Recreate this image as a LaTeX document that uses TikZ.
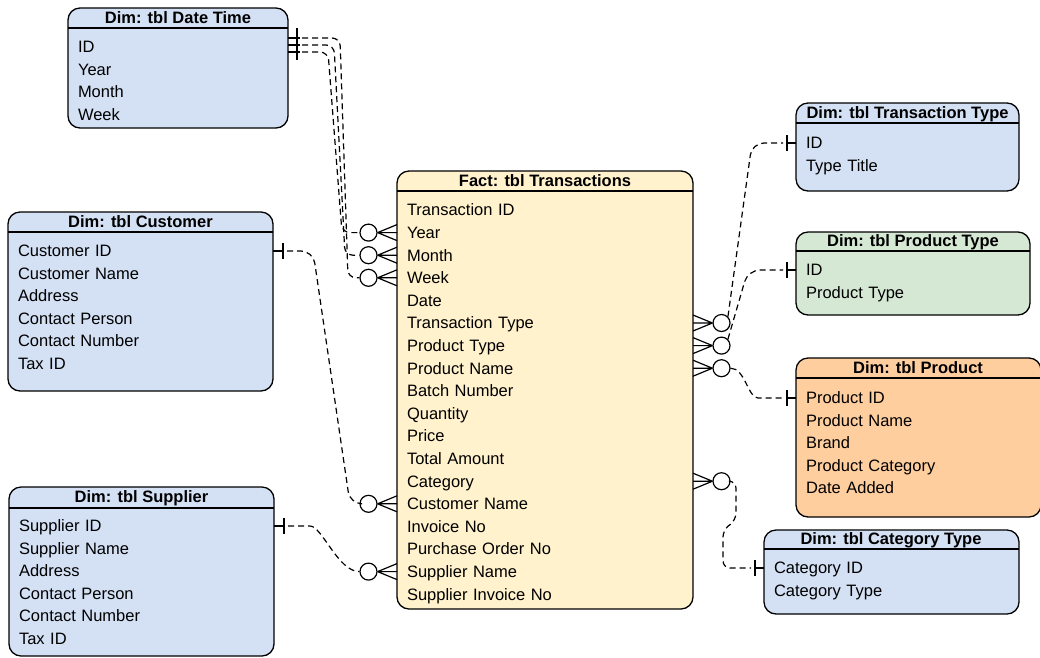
\documentclass[tikz,border=0pt]{standalone}
\usepackage{fontspec}
\setmainfont{Liberation Sans}
\usetikzlibrary{calc}
\definecolor{dimblue}{HTML}{D4E1F5}
\definecolor{dimgreen}{HTML}{D5E8D4}
\definecolor{factyellow}{HTML}{FFF2CC}
\definecolor{dimorange}{HTML}{FFCE9F}
\newcommand\erManyLeft[2]{%
  \node[erc] (#2) at ($(#1.west)+(-28.5,0)$) {};
  \draw[erl] (#2.east) -- ($(#1.west)+(0,-8)$) (#2.east) -- ($(#1.west)+(0,8)$) (#2.east) -- (#1.west);}
\newcommand\erManyRight[2]{%
  \node[erc] (#2) at ($(#1.east)+(28.5,0)$) {};
  \draw[erl] (#2.west) -- ($(#1.east)+(0,-8)$) (#2.west) -- ($(#1.east)+(0,8)$) (#2.west) -- (#1.east);}
\newcommand\erOneRight[1]{\draw[erl] (#1.east) -- ++(10,0) ++(0,-8) -- ++(0,16);}
\newcommand\erOneLeft[1]{\draw[erl] (#1.west) -- ++(-9,0) ++(0,-8) -- ++(0,16);}
\begin{document}
\begin{tikzpicture}[x=1pt,y=-1pt,
  every node/.style={font=\fontsize{16.5pt}{20pt}\selectfont},
  tbl/.style={draw, rounded corners=12pt, line width=1.3pt, inner sep=0pt},
  hdr/.style={font=\fontsize{16.5pt}{20pt}\selectfont\bfseries, inner sep=0pt, text height=11.8pt, text depth=0pt},
  row/.style={anchor=west, inner xsep=10pt, inner ysep=0pt, outer sep=0pt, text height=11.8pt, text depth=0pt, align=left},
  sepl/.style={line width=1.3pt},
  erl/.style={line width=1.2pt},
  conn/.style={line width=1.2pt, dash pattern=on 6pt off 4pt, rounded corners=10pt},
  erc/.style={circle, draw, fill=white, minimum size=17pt, inner sep=0pt, line width=1.2pt}]
\useasboundingbox (0,0) rectangle (1040,657);

% ---- Dim: tbl Date Time
\node[tbl, fill=dimblue, minimum width=220pt, minimum height=120pt] (dt) at (178,68) {};
\node[hdr] (dth) at (178,18) {Dim: tbl Date Time};
\draw[sepl] (68,28) -- (288,28);
\foreach \t [count=\i] in {ID,Year,Month,Week}
  \node[row, text width=200pt] (dt\i) at (68,{47+22.5*(\i-1)}) {\t};

% ---- Dim: tbl Customer
\node[tbl, fill=dimblue, minimum width=265pt, minimum height=179pt] (cu) at (140.5,301.5) {};
\node[hdr] (cuh) at (140.5,222) {Dim: tbl Customer};
\draw[sepl] (8,232) -- (273,232);
\foreach \t [count=\i] in {Customer ID,Customer Name,Address,Contact Person,Contact Number,Tax ID}
  \node[row, text width=245pt] (cu\i) at (8,{251+22.5*(\i-1)}) {\t};

% ---- Dim: tbl Supplier
\node[tbl, fill=dimblue, minimum width=265pt, minimum height=169pt] (su) at (141.5,571.5) {};
\node[hdr] (suh) at (141.5,497) {Dim: tbl Supplier};
\draw[sepl] (9,508) -- (274,508);
\foreach \t [count=\i] in {Supplier ID,Supplier Name,Address,Contact Person,Contact Number,Tax ID}
  \node[row, text width=245pt] (su\i) at (9,{526+22.5*(\i-1)}) {\t};

% ---- Fact: tbl Transactions
\node[tbl, fill=factyellow, minimum width=296pt, minimum height=438pt] (fa) at (545,390) {};
\node[hdr] (fah) at (545,181) {Fact: tbl Transactions};
\draw[sepl] (397,191) -- (693,191);
\foreach \t [count=\i] in {Transaction ID,Year,Month,Week,Date,Transaction Type,Product Type,Product Name,Batch Number,Quantity,Price,Total Amount,Category,Customer Name,Invoice No,Purchase Order No,Supplier Name,Supplier Invoice No}
  \node[row, text width=276pt] (fa\i) at (397,{210+22.6*(\i-1)}) {\t};

% ---- Dim: tbl Transaction Type
\node[tbl, fill=dimblue, minimum width=223pt, minimum height=88pt] (tt) at (907.5,147) {};
\node[hdr] (tth) at (907.5,113) {Dim: tbl Transaction Type};
\draw[sepl] (796,123) -- (1019,123);
\foreach \t [count=\i] in {ID,Type Title}
  \node[row, text width=203pt] (tt\i) at (796,{143+22.5*(\i-1)}) {\t};

% ---- Dim: tbl Product Type
\node[tbl, fill=dimgreen, minimum width=234pt, minimum height=83pt] (pt) at (913,273.5) {};
\node[hdr] (pth) at (913,241) {Dim: tbl Product Type};
\draw[sepl] (796,251) -- (1030,251);
\foreach \t [count=\i] in {ID,Product Type}
  \node[row, text width=214pt] (pt\i) at (796,{270+22.5*(\i-1)}) {\t};

% ---- Dim: tbl Product
\node[tbl, fill=dimorange, minimum width=245pt, minimum height=159pt] (pr) at (918.5,437.5) {};
\node[hdr] (prh) at (918,368) {Dim: tbl Product};
\draw[sepl] (796,378) -- (1041,378);
\foreach \t [count=\i] in {Product ID,Product Name,Brand,Product Category,Date Added}
  \node[row, text width=225pt] (pr\i) at (796,{398+22.5*(\i-1)}) {\t};

% ---- Dim: tbl Category Type
\node[tbl, fill=dimblue, minimum width=255pt, minimum height=84pt] (ct) at (891.5,572) {};
\node[hdr] (cth) at (891,539) {Dim: tbl Category Type};
\draw[sepl] (764,549) -- (1019,549);
\foreach \t [count=\i] in {Category ID,Category Type}
  \node[row, text width=235pt] (ct\i) at (764,{568+22.5*(\i-1)}) {\t};

% ---- ER ends on the fact table
\erManyLeft{fa2}{cy}
\erManyLeft{fa3}{cm}
\erManyLeft{fa4}{cw}
\erManyLeft{fa14}{ccn}
\erManyLeft{fa17}{ccs}
\erManyRight{fa6}{ctt}
\erManyRight{fa7}{cpt}
\erManyRight{fa8}{cpn}
\erManyRight{fa13}{cct}

% ---- ER ends on the dimension tables
\coordinate (dta) at ($(dt1.east)+(0,-9)$);
\coordinate (dtb) at ($(dt1.east)+(0,-2)$);
\coordinate (dtc) at ($(dt1.east)+(0,5)$);
\draw[erl] (dta) -- ++(12,0) (dtb) -- ++(12,0) (dtc) -- ++(12,0)
  ($(dt1.east)+(9,-19)$) -- ++(0,32);
\erOneRight{cu1}
\erOneRight{su1}
\erOneLeft{tt1}
\erOneLeft{pt1}
\erOneLeft{pr1}
\erOneLeft{ct1}

% ---- connectors (start just past the bar)
\draw[conn, rounded corners=8pt] ($(dta)+(14,0)$) -- (340,38) -- (348,277.8) -- (cw.west);
\draw[conn, rounded corners=8pt] ($(dtb)+(14,0)$) -- (334,45) -- (345,255.2) -- (cm.west);
\draw[conn, rounded corners=8pt] ($(dtc)+(14,0)$) -- (328,52) -- (342,232.6) -- (cy.west);
\draw[conn, rounded corners=12pt] ($(cu1.east)+(14,0)$) -- (313,251) -- (350,503.8) -- (ccn.west);
\draw[conn] ($(su1.east)+(14,0)$) -- (300,526) .. controls (322,526) and (338,571.6) .. (ccs.west);
\draw[conn, rounded corners=12pt] (ctt.north east) -- (752,143) -- ($(tt1.west)+(-13,0)$);
\draw[conn, rounded corners=12pt] (cpt.north east) -- (748,270) -- ($(pt1.west)+(-13,0)$);
\draw[conn] (cpn.east) .. controls (745,368) and (748,398) .. (768,398) -- ($(pr1.west)+(-13,0)$);
\draw[conn, rounded corners=7pt] (cct.east) -- (736,481.2) -- (736,520) -- (723,530) -- (723,568) -- ($(ct1.west)+(-13,0)$);
\end{tikzpicture}
\end{document}
